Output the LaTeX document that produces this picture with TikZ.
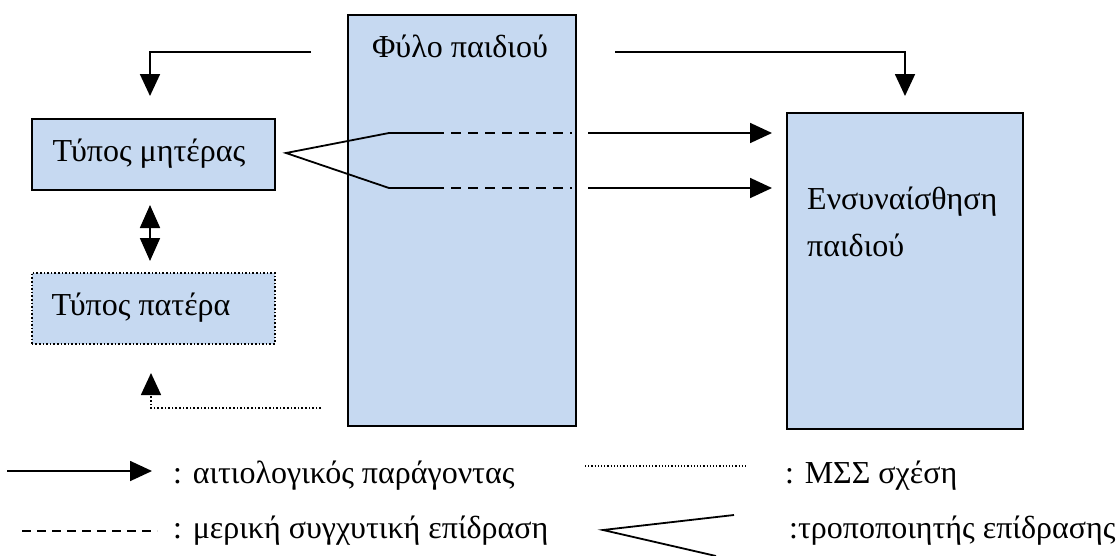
\documentclass[tikz,border=0pt]{standalone}
\usepackage{fontspec}
\setmainfont{Liberation Serif}
\usetikzlibrary{arrows.meta}
\definecolor{boxblue}{RGB}{198,217,241}
\tikzset{
  every node/.style={font=\fontsize{32}{38}\selectfont, inner sep=0pt},
  box/.style={draw=black, fill=boxblue, line width=1.8pt, anchor=north west},
  dotbox/.style={draw=black, fill=boxblue, line width=1.6pt, dotted, anchor=north west},
  conn/.style={line width=1.8pt},
  arr/.style={line width=1.8pt, -{Triangle[width=20pt,length=22pt]}},
  dotarr/.style={line width=1.6pt, dotted, -{Triangle[width=20pt,length=22pt]}},
  dashline/.style={line width=1.8pt, dash pattern=on 10pt off 7pt}
}
\begin{document}
\begin{tikzpicture}[x=1pt,y=-1pt]
\useasboundingbox (0,0) rectangle (1116,555);
% boxes
\node[box, minimum width=228pt, minimum height=411pt] (sex) at (347,14) {};
\node[anchor=center] (sexlab) at (460,46) {Φύλο παιδιού};
\node[box, minimum width=243pt, minimum height=71pt] (mother) at (31,118) {};
\node (motherlab) at (149,154) {Τύπος μητέρας};
\node[dotbox, minimum width=243pt, minimum height=71pt] (father) at (31,272) {};
\node (fatherlab) at (141,308) {Τύπος πατέρα};
\node[box, minimum width=236pt, minimum height=316pt] (emp) at (786,112) {};
\node[anchor=west, align=left, font=\fontsize{32}{47}\selectfont] (emplab) at (807,222) {Ενσυναίσθηση\\παιδιού};
% coordinates
\coordinate (tl) at (311,52);
\coordinate (tlc) at (150,52);
\coordinate (tle) at (150,96);
\coordinate (tr) at (615,52);
\coordinate (trc) at (905,52);
\coordinate (tre) at (905,96);
\coordinate (apex) at (286,153);
\coordinate (m1) at (389,133);
\coordinate (m2) at (389,188);
\coordinate (d1) at (434,133);
\coordinate (d2) at (434,188);
\coordinate (e1) at (572,133);
\coordinate (e2) at (572,188);
\coordinate (a1) at (588,133);
\coordinate (a2) at (588,188);
\coordinate (b1) at (772,133);
\coordinate (b2) at (772,188);
\coordinate (ds) at (321,408);
\coordinate (dsc) at (151,408);
\coordinate (dse) at (151,373);
\coordinate (dau) at (150,205);
\coordinate (dad) at (150,261);
% top arrows
\draw[arr] (tl) -- (tlc) -- (tle);
\draw[arr] (tr) -- (trc) -- (tre);
% modifier
\draw[conn] (m1) -- (apex) -- (m2);
\draw[conn] (m1) -- (d1);
\draw[conn] (m2) -- (d2);
\draw[dashline] (d1) -- (e1);
\draw[dashline] (d2) -- (e2);
\draw[arr] (a1) -- (b1);
\draw[arr] (a2) -- (b2);
% double arrow
\draw[line width=1.8pt, {Triangle[width=20pt,length=23pt]}-{Triangle[width=20pt,length=23pt]}] (dau) -- (dad);
% dotted arrow
\draw[dotarr] (ds) -- (dsc) -- (dse);
% legend
\coordinate (L1s) at (7,471);
\coordinate (L1e) at (152,471);
\draw[arr] (L1s) -- (L1e);
\node[anchor=base west] (L1t) at (173,483) {: αιτιολογικός παράγοντας};
\coordinate (L2s) at (22,531);
\coordinate (L2e) at (157,531);
\draw[line width=1.8pt, dash pattern=on 9pt off 6pt] (L2s) -- (L2e);
\node[anchor=base west] (L2t) at (173,538) {: μερική συγχυτική επίδραση};
\coordinate (L3s) at (585,466);
\coordinate (L3e) at (747,466);
\draw[line width=1.2pt, dotted] (L3s) -- (L3e);
\node[anchor=base west] (L3t) at (785,483) {: ΜΣΣ σχέση};
\coordinate (L4a) at (603,530);
\coordinate (L4t) at (734,515);
\coordinate (L4b) at (716,556);
\draw[conn] (L4t) -- (L4a) -- (L4b);
\node[anchor=base west] (L4l) at (789,538) {:τροποποιητής επίδρασης};
\end{tikzpicture}
\end{document}
